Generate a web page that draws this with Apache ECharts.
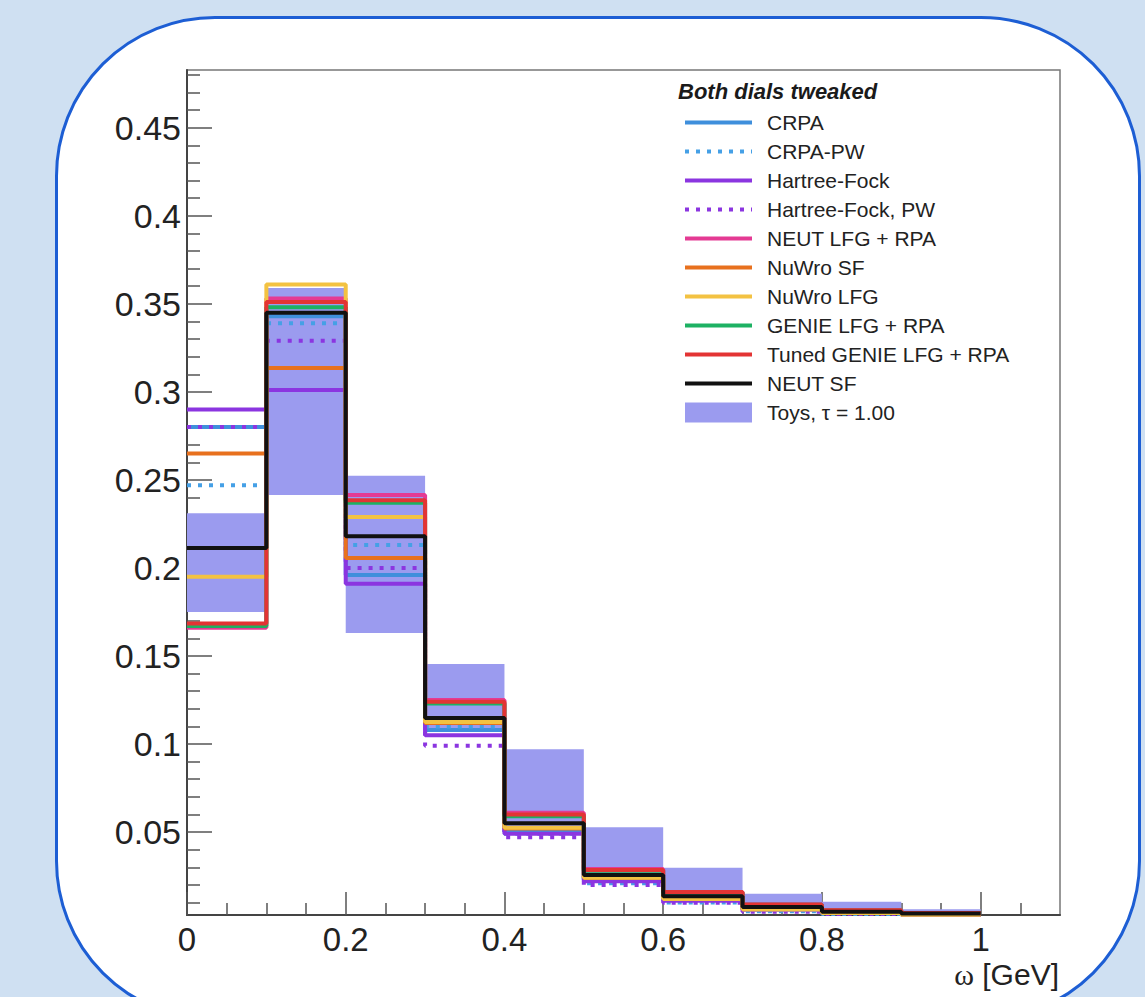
<!DOCTYPE html>
<html>
<head>
<meta charset="utf-8">
<title>Both dials tweaked</title>
<script src="https://cdn.jsdelivr.net/npm/echarts@6/dist/echarts.min.js"></script>
<style>
  html, body { margin: 0; padding: 0; overflow: hidden; background: #cfe0f2; }
  #frame {
    position: absolute; left: 55px; top: 16px; width: 1086px; height: 1005px;
    box-sizing: border-box; border: 3px solid #1d5ed4; border-radius: 160px; background: #fff;
  }
  #main { position: absolute; left: 0; top: 0; width: 1145px; height: 997px; }
</style>
</head>
<body>
<div id="frame"></div>
<div id="main"></div>
<script>
// bin edges of omega [GeV]
var binEdges = [0, 0.1, 0.2, 0.3, 0.4, 0.5, 0.6, 0.7, 0.8, 0.9, 1.0];

// one value per bin
var crpa      = [0.280, 0.343, 0.196, 0.108, 0.050, 0.023, 0.012, 0.006, 0.004, 0.003];
var crpaPW    = [0.247, 0.339, 0.213, 0.110, 0.049, 0.021, 0.010, 0.005, 0.0035, 0.003];
var hf        = [0.290, 0.301, 0.191, 0.105, 0.049, 0.022, 0.011, 0.006, 0.004, 0.003];
var hfPW      = [0.280, 0.329, 0.200, 0.099, 0.047, 0.020, 0.0098, 0.0047, 0.0035, 0.003];
var neutLfg   = [0.166, 0.353, 0.2415, 0.125, 0.061, 0.029, 0.016, 0.009, 0.0058, 0.004];
var nuwroSF   = [0.265, 0.3136, 0.2057, 0.112, 0.052, 0.024, 0.0125, 0.0065, 0.0045, 0.0033];
var nuwroLfg  = [0.195, 0.361, 0.229, 0.1125, 0.0525, 0.024, 0.012, 0.006, 0.004, 0.003];
var genieLfg  = [0.167, 0.348, 0.237, 0.123, 0.059, 0.028, 0.0155, 0.0087, 0.0055, 0.004];
var tunedGen  = [0.1685, 0.351, 0.2385, 0.124, 0.060, 0.0284, 0.016, 0.0087, 0.0056, 0.004];
var neutSF    = [0.2114, 0.345, 0.218, 0.1148, 0.055, 0.0256, 0.0135, 0.0075, 0.0047, 0.0038];

// toys envelope per bin
var toysLo = [0.175, 0.2415, 0.163, 0.108, 0.052, 0.022, 0.011, 0.005, 0.003, 0.003];
var toysHi = [0.231, 0.359, 0.2523, 0.1455, 0.097, 0.0528, 0.0297, 0.0149, 0.0104, 0.0062];

// tick labels
var xTickLabels = [0, 0.2, 0.4, 0.6, 0.8, 1];
var xMinorTicks = [0.05, 0.1, 0.15, 0.25, 0.3, 0.35, 0.45, 0.5, 0.55, 0.65, 0.7, 0.75, 0.85, 0.9, 0.95, 1.05];
var yTickLabels = [0.05, 0.1, 0.15, 0.2, 0.25, 0.3, 0.35, 0.4, 0.45];

var yMinorTicks = [];
for (var k = 1; k <= 48; k++) {
  if (k % 5 !== 0) yMinorTicks.push(k / 100);
}

var FONT = '"Liberation Sans", Arial, Helvetica, sans-serif';

function toSteps(vals) {
  var pts = vals.map(function (v, i) { return [binEdges[i], v]; });
  pts.push([binEdges[binEdges.length - 1], vals[vals.length - 1]]);
  return pts;
}

function hist(name, vals, color, dotted) {
  return {
    name: name,
    type: 'line',
    step: 'end',
    data: toSteps(vals),
    symbol: 'none',
    z: 3,
    lineStyle: { color: color, width: 4, type: dotted ? [4, 7] : 'solid', cap: 'butt' },
    itemStyle: { color: color },
    emphasis: { disabled: true }
  };
}

var chart = echarts.init(document.getElementById('main'), null, { renderer: 'svg' });

var option = {
  animation: false,
  backgroundColor: 'transparent',
  textStyle: { fontFamily: FONT },
  title: {
    text: 'Both dials tweaked',
    left: 678,
    top: 80,
    padding: 0,
    textStyle: { fontSize: 22, fontStyle: 'italic', fontWeight: 'bold', color: '#1a1a1a', fontFamily: FONT }
  },
  legend: {
    orient: 'vertical',
    left: 683,
    top: 112,
    padding: 0,
    itemWidth: 67,
    itemHeight: 20,
    itemGap: 8,
    selectedMode: false,
    lineStyle: { width: 4 },
    itemStyle: { opacity: 0 },
    textStyle: { fontSize: 21, color: '#222', fontFamily: FONT, padding: [0, 0, 0, 10] },
    data: ['CRPA', 'CRPA-PW', 'Hartree-Fock', 'Hartree-Fock, PW', 'NEUT LFG + RPA', 'NuWro SF',
      'NuWro LFG', 'GENIE LFG + RPA', 'Tuned GENIE LFG + RPA', 'NEUT SF',
      { name: 'Toys, τ = 1.00', icon: 'rect', itemStyle: { opacity: 1 } }]
  },
  grid: {
    left: 187, right: 85, top: 70, bottom: 82,
    show: true, borderColor: '#777', borderWidth: 1.5, backgroundColor: 'transparent'
  },
  graphic: [{
    type: 'text',
    right: 86,
    top: 959,
    style: {
      text: '{w|ω} [GeV]',
      font: '30px ' + FONT,
      fill: '#222',
      lineHeight: 30,
      rich: { w: { fontFamily: '"Liberation Serif", serif', fontSize: 30, lineHeight: 30, fill: '#222' } }
    }
  }],
  xAxis: [{
    type: 'value', min: 0, max: 1.1, position: 'bottom',
    axisLine: { onZero: false, lineStyle: { color: '#444', width: 2 } },
    axisTick: { inside: true, length: 23, customValues: xTickLabels, lineStyle: { color: '#555', width: 1.5 } },
    axisLabel: {
      customValues: xTickLabels, fontSize: 33, lineHeight: 33, color: '#222', margin: 8, fontFamily: FONT,
      formatter: function (v) { return String(+v.toFixed(1)); }
    },
    splitLine: { show: false }
  }, {
    type: 'value', min: 0, max: 1.1, position: 'bottom',
    axisLine: { show: false },
    axisTick: { inside: true, length: 12, customValues: xMinorTicks, lineStyle: { color: '#555', width: 1.5 } },
    axisLabel: { show: false },
    splitLine: { show: false }
  }],
  yAxis: [{
    type: 'value', min: 0.0029, max: 0.4828, position: 'left',
    axisLine: { show: true, onZero: false, lineStyle: { color: '#444', width: 2 } },
    axisTick: { show: true, inside: true, length: 25, customValues: yTickLabels, lineStyle: { color: '#555', width: 1.5 } },
    axisLabel: {
      customValues: yTickLabels, fontSize: 34, color: '#222', margin: 6, fontFamily: FONT,
      formatter: function (v) { return String(+v.toFixed(2)); }
    },
    splitLine: { show: false }
  }, {
    type: 'value', min: 0.0029, max: 0.4828, position: 'left',
    axisLine: { show: false },
    axisTick: { show: true, inside: true, length: 13, customValues: yMinorTicks, lineStyle: { color: '#555', width: 1.5 } },
    axisLabel: { show: false },
    splitLine: { show: false }
  }],
  series: [
    hist('CRPA', crpa, '#3f8fdc', false),
    hist('CRPA-PW', crpaPW, '#45a0e6', true),
    hist('Hartree-Fock', hf, '#8b35e0', false),
    hist('Hartree-Fock, PW', hfPW, '#8b35e0', true),
    hist('NEUT LFG + RPA', neutLfg, '#e43a93', false),
    hist('NuWro SF', nuwroSF, '#e8711e', false),
    hist('NuWro LFG', nuwroLfg, '#f3c242', false),
    hist('GENIE LFG + RPA', genieLfg, '#1db163', false),
    hist('Tuned GENIE LFG + RPA', tunedGen, '#e33434', false),
    hist('NEUT SF', neutSF, '#111111', false),
    {
      name: 'Toys, τ = 1.00',
      type: 'custom',
      z: 1,
      itemStyle: { color: '#9b9bef' },
      encode: { x: [0, 1], y: [2, 3] },
      data: toysLo.map(function (lo, i) { return [binEdges[i], binEdges[i + 1], lo, toysHi[i]]; }),
      renderItem: function (params, api) {
        var p0 = api.coord([api.value(0), api.value(3)]);
        var p1 = api.coord([api.value(1), api.value(2)]);
        return {
          type: 'rect',
          shape: { x: p0[0], y: p0[1], width: p1[0] - p0[0], height: p1[1] - p0[1] },
          style: { fill: api.visual('color') }
        };
      }
    }
  ]
};

chart.setOption(option);
</script>
</body>
</html>
